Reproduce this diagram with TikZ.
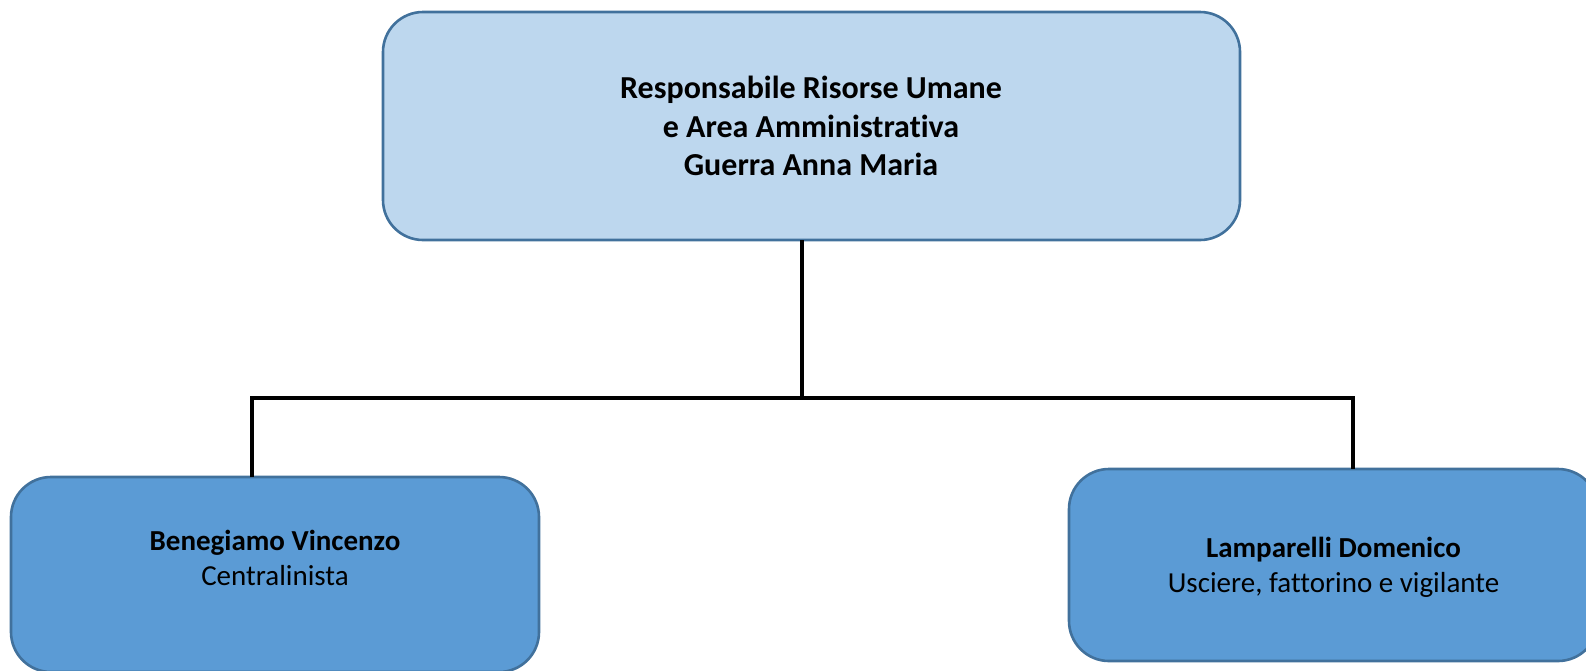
\documentclass[tikz,border=0pt]{standalone}
\usepackage{fontspec}
\setmainfont[Ligatures=NoCommon]{Carlito}
\definecolor{topfill}{HTML}{BDD7EE}
\definecolor{botfill}{HTML}{5B9BD5}
\definecolor{boxline}{HTML}{41719C}
\begin{document}
\begin{tikzpicture}[x=1pt,y=-1pt,
  box/.style={draw=boxline,line width=2.6pt,rounded corners=40pt,rectangle,inner sep=0pt,outer sep=0pt},
  topbox/.style={box,fill=topfill},
  botbox/.style={box,fill=botfill},
  lbl/.style={anchor=base,inner sep=0pt,font=\fontsize{29}{35}\selectfont},
  toplbl/.style={lbl,font=\fontsize{32}{38}\selectfont\bfseries},
  conn/.style={draw=black,line width=3.4pt}]
\useasboundingbox (0,0) rectangle (1586,670);
\clip (0,0) rectangle (1586,670);
\node[topbox,minimum width=857pt,minimum height=228pt] (top) at (811.5,126) {};
\node[botbox,minimum width=528pt,minimum height=195pt] (left) at (275,574.5) {};
\node[botbox,minimum width=529pt,minimum height=192pt] (right) at (1333.5,565) {};
\node[toplbl] (t1) at (811,98) {Responsabile Risorse Umane};
\node[toplbl] (t2) at (811,137) {e Area Amministrativa};
\node[toplbl] (t3) at (811,175) {Guerra Anna Maria};
\node[lbl] (l1) at (275,550) {\bfseries Benegiamo Vincenzo};
\node[lbl] (l2) at (275,585) {Centralinista};
\node[lbl] (r1) at (1333.5,557) {\bfseries Lamparelli Domenico};
\node[lbl] (r2) at (1333.5,592) {Usciere, fattorino e vigilante};
\coordinate (j) at (802,398);
\coordinate (jl) at (252,398);
\coordinate (jr) at (1353,398);
\draw[conn] (j|-top.south) -- (j);
\draw[conn] (jl|-left.north) -- (jl) -- (jr) -- (jr|-right.north);
\end{tikzpicture}
\end{document}
